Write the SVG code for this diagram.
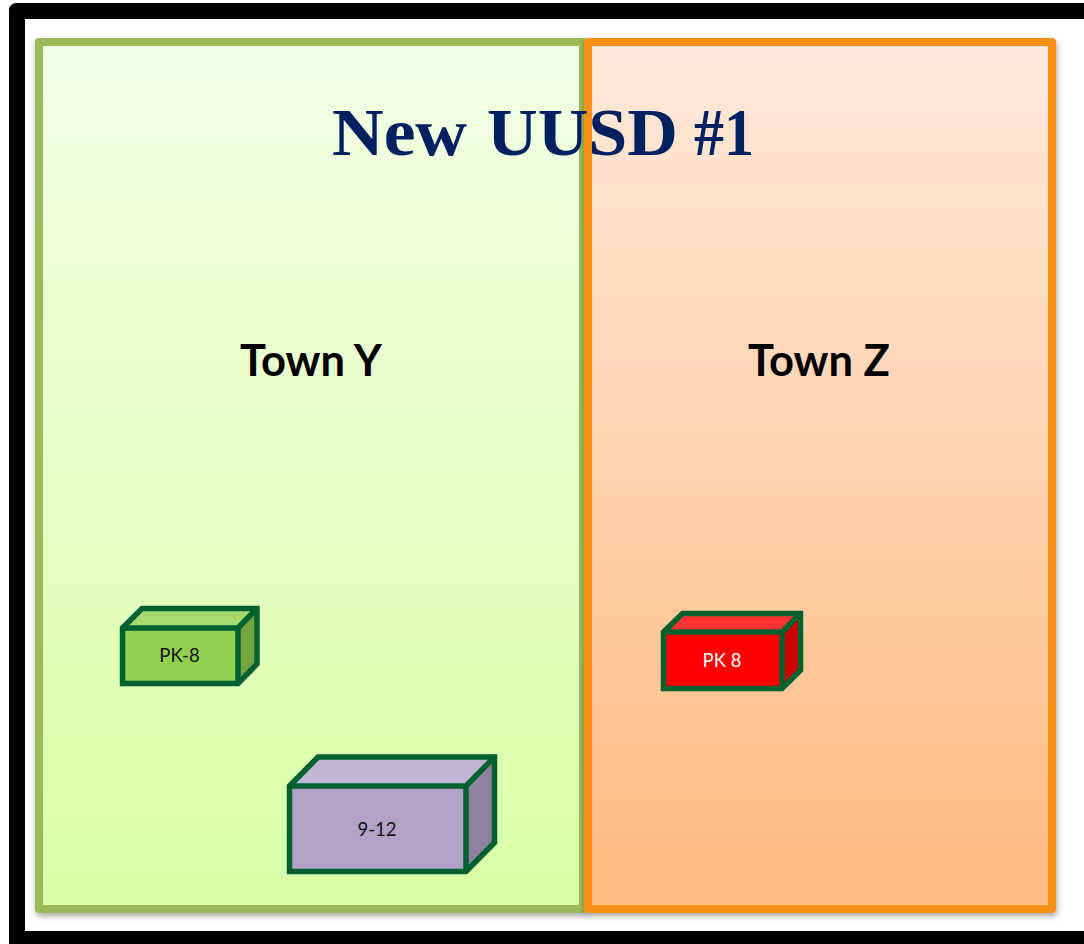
<svg xmlns="http://www.w3.org/2000/svg" width="1084" height="944" viewBox="0 0 1084 944">
<style>
.edge{stroke:#00602f;stroke-width:5.5;stroke-linejoin:miter;fill:none}
.lbl{font-family:"Lato","Liberation Sans",sans-serif;font-size:18.500px;text-anchor:middle;fill:#111}
.town{font-family:"Lato","Open Sans",sans-serif;font-size:43.500px;font-weight:700;text-anchor:middle;fill:#000}
.panel{stroke-width:8;stroke-linejoin:round;filter:url(#sh)}
</style>
<defs>
<linearGradient id="gg" x1="0" y1="0" x2="0" y2="1"><stop offset="0" stop-color="#f3ffe6"/><stop offset="1" stop-color="#d8ffa5"/></linearGradient>
<linearGradient id="og" x1="0" y1="0" x2="0" y2="1"><stop offset="0" stop-color="#ffe9db"/><stop offset="1" stop-color="#ffba7e"/></linearGradient>
<filter id="sh" x="-5%" y="-5%" width="110%" height="110%"><feDropShadow dx="1" dy="3" stdDeviation="3" flood-color="#000" flood-opacity="0.35"/></filter>
</defs>
<rect width="1084" height="944" fill="#fff"/>
<g id="frame"><path fill-rule="evenodd" fill="#000" d="M17 3H1084V19H25V931H1084V944H9V11Q9 3 17 3Z"/></g>
<g id="town-y-panel"><rect class="panel" x="39" y="42" width="544" height="867" fill="url(#gg)" stroke="#9bbb59"/></g>
<g id="town-z-panel"><rect class="panel" x="588" y="42" width="464" height="867" fill="url(#og)" stroke="#f79016"/></g>
<text id="title" y="155" font-family="'Liberation Serif',serif" font-weight="700" font-size="68" fill="#002060"><tspan x="332" textLength="135" lengthAdjust="spacingAndGlyphs">New</tspan> <tspan x="487" textLength="191" lengthAdjust="spacingAndGlyphs">UUSD</tspan> <tspan x="694" textLength="60" lengthAdjust="spacingAndGlyphs">#1</tspan></text>
<text id="town-y" class="town" x="311" y="376">Town Y</text>
<text id="town-z" class="town" x="819" y="376">Town Z</text>
<g id="pk8-y">
<rect x="122.500" y="628" width="115.500" height="55.500" fill="#92d050"/>
<path d="M122.500 628L142 608.500H257L238 628Z" fill="#a8d96f"/>
<path d="M238 628L257 608.500V664L238 683.500Z" fill="#74a640"/>
<path class="edge" d="M122.500 628L142 608.500H257V664L238 683.500H122.500Z"/>
<path class="edge" d="M122.500 628H238V683.500M238 628L257 608.500"/>
<text class="lbl" x="179.500" y="662">PK-8</text>
</g>
<g id="grades-9-12">
<rect x="289.500" y="786" width="176.500" height="85.500" fill="#b1a2c6"/>
<path d="M289.500 786L318 757H494.500L466 786Z" fill="#c1b5d4"/>
<path d="M466 786L494.500 757V842.500L466 871.500Z" fill="#8e82a0"/>
<path class="edge" d="M289.500 786L318 757H494.500V842.500L466 871.500H289.500Z"/>
<path class="edge" d="M289.500 786H466V871.500M466 786L494.500 757"/>
<text class="lbl" x="377" y="835.500">9-12</text>
</g>
<g id="pk8-z">
<rect x="663.500" y="632" width="118.500" height="56.500" fill="#ff0000"/>
<path d="M663.500 632L682.500 613.500H800.500L782 632Z" fill="#ff3333"/>
<path d="M782 632L800.500 613.500V670L782 688.500Z" fill="#cc0000"/>
<path class="edge" d="M663.500 632L682.500 613.500H800.500V670L782 688.500H663.500Z"/>
<path class="edge" d="M663.500 632H782V688.500M782 632L800.500 613.500"/>
<text class="lbl" x="722" y="667" style="fill:#fff">PK 8</text>
</g>
</svg>
